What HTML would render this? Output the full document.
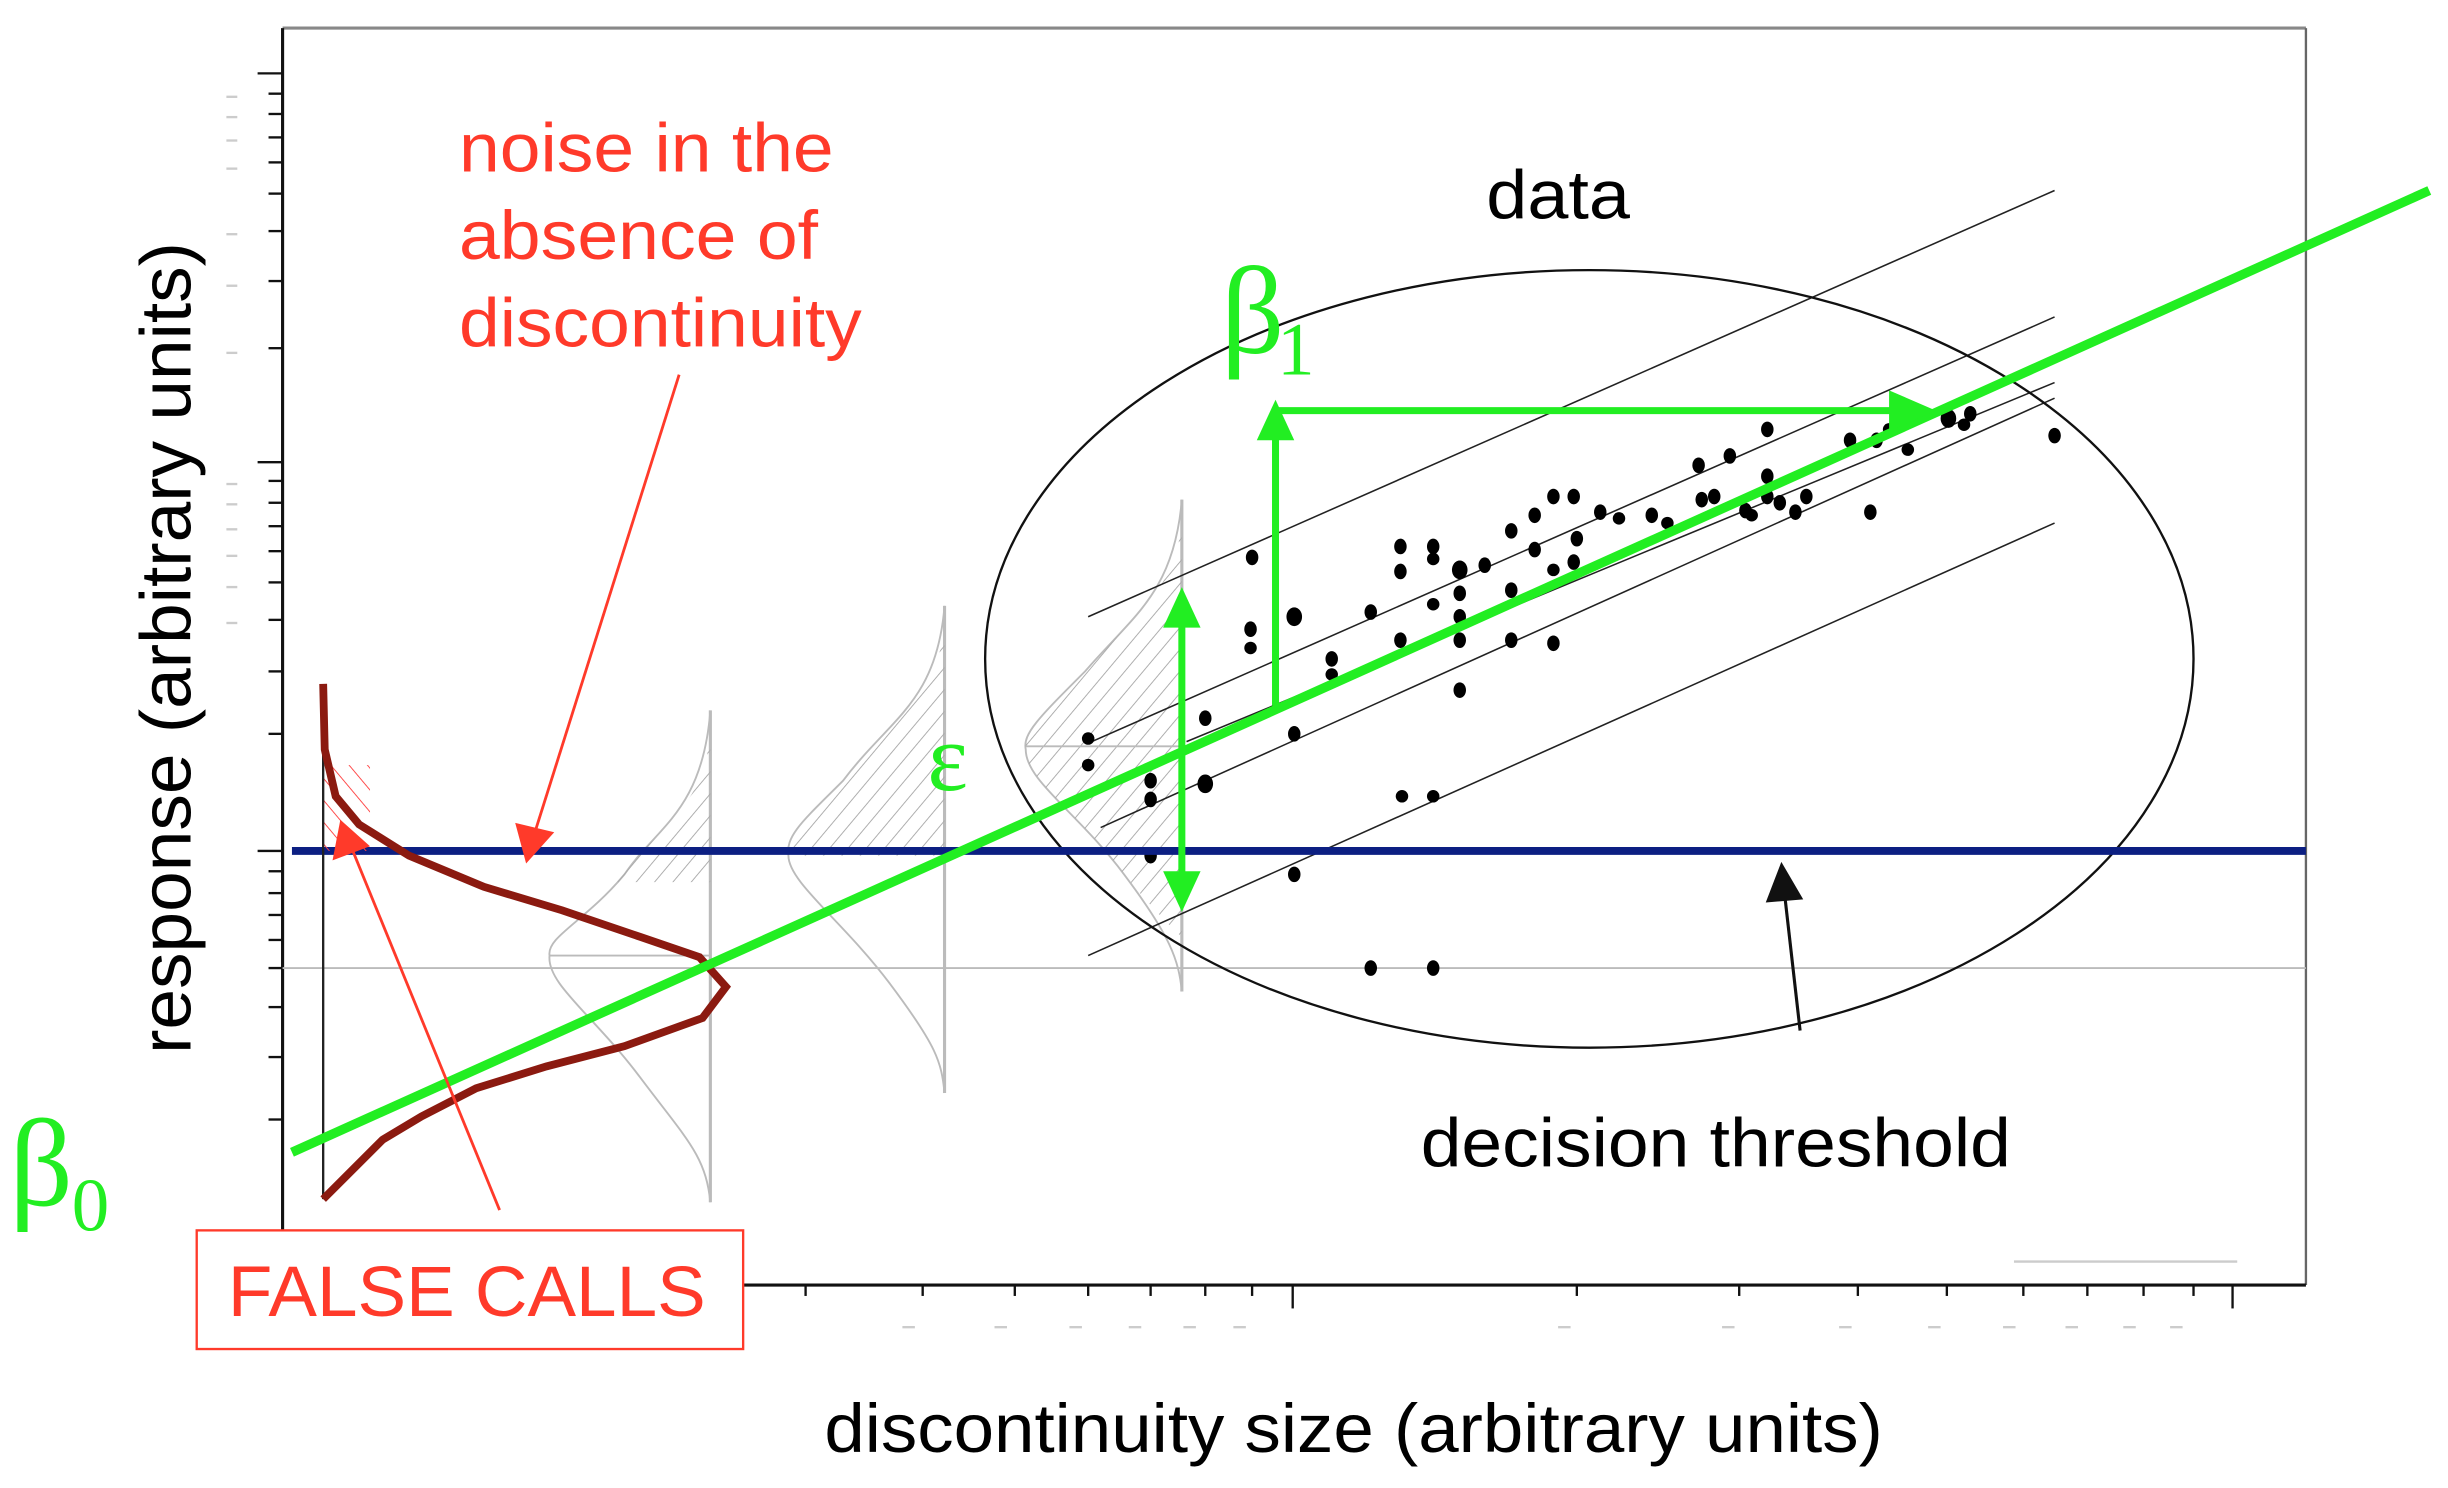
<!DOCTYPE html>
<html><head><meta charset="utf-8"><style>
html,body{margin:0;padding:0;background:#fff;width:2448px;height:1488px;overflow:hidden}
svg{display:block}
text{font-family:"Liberation Sans",sans-serif}
.g{font-family:"Liberation Serif",serif;fill:#22ee22}
</style></head><body>
<svg width="2448" height="1488" viewBox="0 0 1568 953" preserveAspectRatio="none" xmlns="http://www.w3.org/2000/svg">
<defs>
<pattern id="h" width="9" height="9" patternUnits="userSpaceOnUse" patternTransform="rotate(40)"><line x1="0" y1="0" x2="0" y2="9" stroke="#aaa" stroke-width="1.2"/></pattern>
<pattern id="hr" width="9" height="9" patternUnits="userSpaceOnUse" patternTransform="rotate(-40)"><line x1="0" y1="0" x2="0" y2="9" stroke="#f44" stroke-width="1.2"/></pattern>
</defs>
<!-- frame -->
<line x1="181" y1="18" x2="1477" y2="18" stroke="#888" stroke-width="2"/>
<line x1="1477" y1="18" x2="1477" y2="823" stroke="#666" stroke-width="1.5"/>
<line x1="181" y1="18" x2="181" y2="823" stroke="#111" stroke-width="2"/>
<line x1="475" y1="823" x2="1477" y2="823" stroke="#111" stroke-width="2"/>
<g stroke="#111" stroke-width="1.5">
<line x1="165" y1="47" x2="181" y2="47"/><line x1="165" y1="296" x2="181" y2="296"/><line x1="165" y1="545" x2="181" y2="545"/>
<line x1="172" y1="60" x2="181" y2="60"/><line x1="172" y1="73" x2="181" y2="73"/><line x1="172" y1="88" x2="181" y2="88"/><line x1="172" y1="104" x2="181" y2="104"/><line x1="172" y1="124" x2="181" y2="124"/><line x1="172" y1="148" x2="181" y2="148"/><line x1="172" y1="180" x2="181" y2="180"/><line x1="172" y1="223" x2="181" y2="223"/>
<line x1="172" y1="308" x2="181" y2="308"/><line x1="172" y1="322" x2="181" y2="322"/><line x1="172" y1="337" x2="181" y2="337"/><line x1="172" y1="353" x2="181" y2="353"/><line x1="172" y1="373" x2="181" y2="373"/><line x1="172" y1="397" x2="181" y2="397"/><line x1="172" y1="430" x2="181" y2="430"/><line x1="172" y1="470" x2="181" y2="470"/>
<line x1="172" y1="558" x2="181" y2="558"/><line x1="172" y1="572" x2="181" y2="572"/><line x1="172" y1="586" x2="181" y2="586"/><line x1="172" y1="602" x2="181" y2="602"/><line x1="172" y1="620" x2="181" y2="620"/><line x1="172" y1="645" x2="181" y2="645"/><line x1="172" y1="677" x2="181" y2="677"/><line x1="172" y1="717" x2="181" y2="717"/>
<line x1="516" y1="823" x2="516" y2="830"/><line x1="591" y1="823" x2="591" y2="830"/><line x1="650" y1="823" x2="650" y2="830"/><line x1="697" y1="823" x2="697" y2="830"/><line x1="737" y1="823" x2="737" y2="830"/><line x1="772" y1="823" x2="772" y2="830"/><line x1="802" y1="823" x2="802" y2="830"/><line x1="828" y1="823" x2="828" y2="838"/><line x1="1010" y1="823" x2="1010" y2="830"/><line x1="1114" y1="823" x2="1114" y2="830"/><line x1="1190" y1="823" x2="1190" y2="830"/><line x1="1247" y1="823" x2="1247" y2="830"/><line x1="1296" y1="823" x2="1296" y2="830"/><line x1="1337" y1="823" x2="1337" y2="830"/><line x1="1373" y1="823" x2="1373" y2="830"/><line x1="1405" y1="823" x2="1405" y2="830"/><line x1="1430" y1="823" x2="1430" y2="838"/>
</g>
<g stroke="#ccc" stroke-width="1.5">
<line x1="578" y1="850" x2="586" y2="850"/><line x1="637" y1="850" x2="645" y2="850"/><line x1="685" y1="850" x2="693" y2="850"/><line x1="723" y1="850" x2="731" y2="850"/><line x1="758" y1="850" x2="766" y2="850"/><line x1="790" y1="850" x2="798" y2="850"/><line x1="998" y1="850" x2="1006" y2="850"/><line x1="1103" y1="850" x2="1111" y2="850"/><line x1="1178" y1="850" x2="1186" y2="850"/><line x1="1235" y1="850" x2="1243" y2="850"/><line x1="1283" y1="850" x2="1291" y2="850"/><line x1="1323" y1="850" x2="1331" y2="850"/><line x1="1360" y1="850" x2="1368" y2="850"/><line x1="1390" y1="850" x2="1398" y2="850"/>
<line x1="1290" y1="808" x2="1433" y2="808"/>
<line x1="145" y1="62" x2="152" y2="62"/><line x1="145" y1="75" x2="152" y2="75"/><line x1="145" y1="90" x2="152" y2="90"/><line x1="145" y1="108" x2="152" y2="108"/><line x1="145" y1="150" x2="152" y2="150"/><line x1="145" y1="183" x2="152" y2="183"/><line x1="145" y1="226" x2="152" y2="226"/><line x1="145" y1="310" x2="152" y2="310"/><line x1="145" y1="323" x2="152" y2="323"/><line x1="145" y1="339" x2="152" y2="339"/><line x1="145" y1="356" x2="152" y2="356"/><line x1="145" y1="376" x2="152" y2="376"/><line x1="145" y1="399" x2="152" y2="399"/>
</g>
<line x1="181" y1="620" x2="1477" y2="620" stroke="#bbb" stroke-width="1.2"/>
<!-- gaussians -->
<g fill="none" stroke="#bbb" stroke-width="1.2">
<line x1="455" y1="455" x2="455" y2="770" stroke-width="2"/>
<path d="M455,455 C450,520 420,530 400,560 C375,590 350,600 352,612 C350,630 380,650 410,690 C440,730 452,740 455,770"/>
<path d="M455,470 C450,520 420,530 395,565 L455,565z" fill="url(#h)" stroke="none"/>
<line x1="352" y1="612" x2="455" y2="612"/>
<line x1="605" y1="388" x2="605" y2="700" stroke-width="2"/>
<path d="M605,388 C600,450 570,460 540,500 C515,525 503,535 505,548 C505,565 540,590 570,630 C600,670 603,680 605,700"/>
<path d="M605,400 C600,450 570,460 540,500 C515,525 503,535 505,548 L605,548z" fill="url(#h)" stroke="none"/>
<line x1="757" y1="320" x2="757" y2="635" stroke-width="2"/>
<path d="M757,320 C752,380 725,395 695,430 C665,460 655,470 657,480 C657,500 690,520 720,560 C750,600 755,615 757,635"/>
<path d="M757,335 C752,380 725,395 695,430 C665,460 655,470 657,480 C657,500 690,520 720,560 C745,590 757,600 757,600z" fill="url(#h)" stroke="none"/>
<line x1="657" y1="478" x2="757" y2="478"/>
</g>
<g stroke="#222" stroke-width="1" fill="none">
<line x1="697" y1="395" x2="1316" y2="122"/>
<line x1="697" y1="476" x2="1316" y2="203"/>
<line x1="705" y1="530" x2="1316" y2="255"/>
<line x1="697" y1="612" x2="1316" y2="335"/>
<line x1="760" y1="475" x2="1316" y2="245"/>
</g>
<ellipse cx="1018" cy="422" rx="387" ry="249" fill="none" stroke="#111" stroke-width="1.5"/>
<!-- dots -->
<g fill="#000">
<ellipse cx="802" cy="357" rx="4" ry="5"/><ellipse cx="801" cy="403" rx="4" ry="5"/><ellipse cx="801" cy="415" rx="4" ry="4"/><ellipse cx="829" cy="395" rx="5" ry="6"/><ellipse cx="853" cy="422" rx="4" ry="5"/><ellipse cx="853" cy="432" rx="4" ry="4"/><ellipse cx="878" cy="392" rx="4" ry="5"/><ellipse cx="897" cy="350" rx="4" ry="5"/><ellipse cx="918" cy="350" rx="4" ry="5"/><ellipse cx="897" cy="366" rx="4" ry="5"/><ellipse cx="918" cy="358" rx="4" ry="4"/><ellipse cx="935" cy="365" rx="5" ry="6"/><ellipse cx="935" cy="380" rx="4" ry="5"/><ellipse cx="935" cy="395" rx="4" ry="5"/><ellipse cx="951" cy="362" rx="4" ry="5"/><ellipse cx="918" cy="387" rx="4" ry="4"/><ellipse cx="897" cy="410" rx="4" ry="5"/><ellipse cx="935" cy="410" rx="4" ry="5"/><ellipse cx="968" cy="340" rx="4" ry="5"/><ellipse cx="968" cy="378" rx="4" ry="5"/><ellipse cx="968" cy="410" rx="4" ry="5"/><ellipse cx="995" cy="412" rx="4" ry="5"/><ellipse cx="983" cy="330" rx="4" ry="5"/><ellipse cx="983" cy="352" rx="4" ry="5"/><ellipse cx="995" cy="318" rx="4" ry="5"/><ellipse cx="1008" cy="318" rx="4" ry="5"/><ellipse cx="1010" cy="345" rx="4" ry="5"/><ellipse cx="995" cy="365" rx="4" ry="4"/><ellipse cx="1008" cy="360" rx="4" ry="5"/><ellipse cx="1025" cy="328" rx="4" ry="5"/><ellipse cx="1037" cy="332" rx="4" ry="4"/><ellipse cx="1058" cy="330" rx="4" ry="5"/><ellipse cx="1068" cy="335" rx="4" ry="4"/><ellipse cx="1088" cy="298" rx="4" ry="5"/><ellipse cx="1108" cy="292" rx="4" ry="5"/><ellipse cx="1090" cy="320" rx="4" ry="5"/><ellipse cx="1098" cy="318" rx="4" ry="5"/><ellipse cx="1118" cy="327" rx="4" ry="5"/><ellipse cx="1132" cy="305" rx="4" ry="5"/><ellipse cx="1132" cy="318" rx="4" ry="5"/><ellipse cx="1140" cy="322" rx="4" ry="5"/><ellipse cx="1150" cy="328" rx="4" ry="5"/><ellipse cx="1157" cy="318" rx="4" ry="5"/><ellipse cx="1122" cy="330" rx="4" ry="4"/><ellipse cx="1198" cy="328" rx="4" ry="5"/><ellipse cx="1132" cy="275" rx="4" ry="5"/><ellipse cx="1185" cy="282" rx="4" ry="5"/><ellipse cx="1202" cy="282" rx="4" ry="5"/><ellipse cx="1222" cy="288" rx="4" ry="4"/><ellipse cx="1248" cy="268" rx="5" ry="6"/><ellipse cx="1262" cy="265" rx="4" ry="5"/><ellipse cx="1258" cy="272" rx="4" ry="4"/><ellipse cx="1316" cy="279" rx="4" ry="5"/><ellipse cx="1210" cy="275" rx="4" ry="4"/>
<ellipse cx="772" cy="460" rx="4" ry="5"/><ellipse cx="829" cy="470" rx="4" ry="5"/><ellipse cx="935" cy="442" rx="4" ry="5"/><ellipse cx="697" cy="473" rx="4" ry="4"/><ellipse cx="697" cy="490" rx="4" ry="4"/><ellipse cx="737" cy="500" rx="4" ry="5"/><ellipse cx="737" cy="512" rx="4" ry="5"/><ellipse cx="772" cy="502" rx="5" ry="6"/><ellipse cx="898" cy="510" rx="4" ry="4"/><ellipse cx="918" cy="510" rx="4" ry="4"/><ellipse cx="737" cy="548" rx="4" ry="5"/><ellipse cx="829" cy="560" rx="4" ry="5"/><ellipse cx="878" cy="620" rx="4" ry="5"/><ellipse cx="918" cy="620" rx="4" ry="5"/>
</g>
<line x1="187" y1="545" x2="1477" y2="545" stroke="#0c1f82" stroke-width="5"/>
<rect x="207" y="490" width="30" height="55" fill="url(#hr)"/>
<line x1="207" y1="440" x2="207" y2="768" stroke="#222" stroke-width="1.5"/>
<polyline points="207,438 208,480 215,510 230,528 262,548 310,568 360,583 410,600 448,613 465,632 450,652 400,670 350,683 305,697 270,715 245,730 207,768" fill="none" stroke="#8b1a10" stroke-width="5"/>
<line x1="187" y1="738" x2="1556" y2="122" stroke="#22ee22" stroke-width="6"/>
<g stroke="#22ee22" stroke-width="4.5" fill="#22ee22">
<line x1="817" y1="452" x2="817" y2="275"/><path d="M805,282 L817,256 L829,282z" stroke="none"/>
<line x1="817" y1="263" x2="1218" y2="263"/><path d="M1210,250 L1240,263 L1210,276z" stroke="none"/>
<line x1="757" y1="395" x2="757" y2="565"/><path d="M745,402 L757,376 L769,402z" stroke="none"/><path d="M745,558 L757,584 L769,558z" stroke="none"/>
</g>
<g stroke="#ff3a2a" stroke-width="1.8" fill="#ff3a2a">
<line x1="435" y1="240" x2="342" y2="535"/><path d="M330,527 L337,553 L355,533z" stroke="none"/>
<line x1="320" y1="775" x2="226" y2="545"/><path d="M213,551 L218,525 L237,542z" stroke="none"/>
</g>
<line x1="1153" y1="660" x2="1143" y2="572" stroke="#111" stroke-width="2"/>
<path d="M1131,578 L1141,552 L1155,576z" fill="#111"/>
<rect x="126" y="788" width="350" height="76" fill="#fff" stroke="#ff3a2a" stroke-width="1.5"/>
<text x="146" y="843" font-size="46" fill="#ff3a2a" textLength="306" lengthAdjust="spacingAndGlyphs">FALSE CALLS</text>
<g font-size="44" fill="#ff3a2a">
<text x="294" y="110" textLength="240" lengthAdjust="spacingAndGlyphs">noise in the</text>
<text x="294" y="166" textLength="230" lengthAdjust="spacingAndGlyphs">absence of</text>
<text x="294" y="222" textLength="258" lengthAdjust="spacingAndGlyphs">discontinuity</text>
</g>
<text x="952" y="140" font-size="44" fill="#000" textLength="92" lengthAdjust="spacingAndGlyphs">data</text>
<text x="910" y="747" font-size="44" fill="#000" textLength="378" lengthAdjust="spacingAndGlyphs">decision threshold</text>
<text x="528" y="930" font-size="44" fill="#000" textLength="678" lengthAdjust="spacingAndGlyphs">discontinuity size (arbitrary units)</text>
<text transform="translate(122,675) rotate(-90)" font-size="46" fill="#000" textLength="520" lengthAdjust="spacingAndGlyphs">response (arbitrary units)</text>
<text class="g" x="6" y="772" font-size="80">β</text><text class="g" x="46" y="788" font-size="48">0</text>
<text class="g" x="782" y="226" font-size="80">β</text><text class="g" x="818" y="240" font-size="48">1</text>
<text class="g" x="594" y="506" font-size="62">ε</text>
</svg>
</body></html>
